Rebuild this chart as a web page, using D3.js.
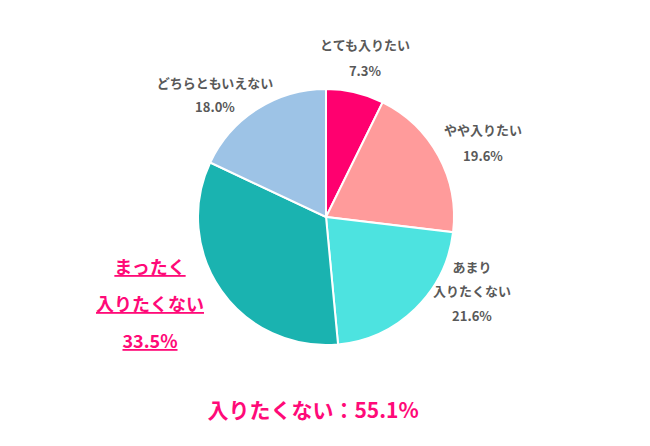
<!DOCTYPE html>
<html><head><meta charset="utf-8">
<script src="https://cdn.jsdelivr.net/npm/d3@7"></script>
<style>body{margin:0;background:#fff}</style></head>
<body><svg id="c" width="650" height="446"></svg>
<script>
const categories=["とても入りたい","やや入りたい","あまり入りたくない","まったく入りたくない","どちらともいえない"];
const values=[7.3,19.6,21.6,33.5,18.0];
const colors=["#ff006f","#ff9b9b","#4de3e0","#1ab3b0","#9dc3e6"];
const svg=d3.select("#c");
const cx=326,cy=217,r=128;
const pie=d3.pie().sort(null).value(d=>d)(values);
const arc=d3.arc().innerRadius(0).outerRadius(r);
svg.append("g").attr("transform",`translate(${cx},${cy})`).selectAll("path").data(pie).join("path")
 .attr("d",arc).attr("fill",(d,i)=>colors[i]).attr("stroke","#fff").attr("stroke-width",2);
const F="'Noto Sans CJK JP','Noto Sans',sans-serif";
const labels=[
 [365,[[50,"とても入りたい"],[76,"7.3%"]]],
 [483,[[135,"やや入りたい"],[161,"19.6%"]]],
 [472,[[272,"あまり"],[296,"入りたくない"],[321,"21.6%"]]],
 [215,[[88,"どちらともいえない"],[112,"18.0%"]]]
];
labels.forEach(([x,ls])=>ls.forEach(([y,t])=>svg.append("text").attr("x",x).attr("y",y).attr("text-anchor","middle")
 .attr("font-family",F).attr("font-size",13).attr("font-weight","bold").attr("fill","#595959").text(t)));
[[274,"まったく"],[311,"入りたくない"],[348,"33.5%"]].forEach(([y,t])=>svg.append("text").attr("x",150).attr("y",y)
 .attr("text-anchor","middle").attr("font-family",F).attr("font-size",18).attr("font-weight","bold")
 .attr("fill","#ff0a78").attr("text-decoration","underline").text(t));
svg.append("text").attr("x",313).attr("y",418).attr("text-anchor","middle").attr("font-family",F)
 .attr("font-size",21).attr("font-weight","bold").attr("fill","#ff0a78").text("入りたくない：55.1%");
</script></body></html>
